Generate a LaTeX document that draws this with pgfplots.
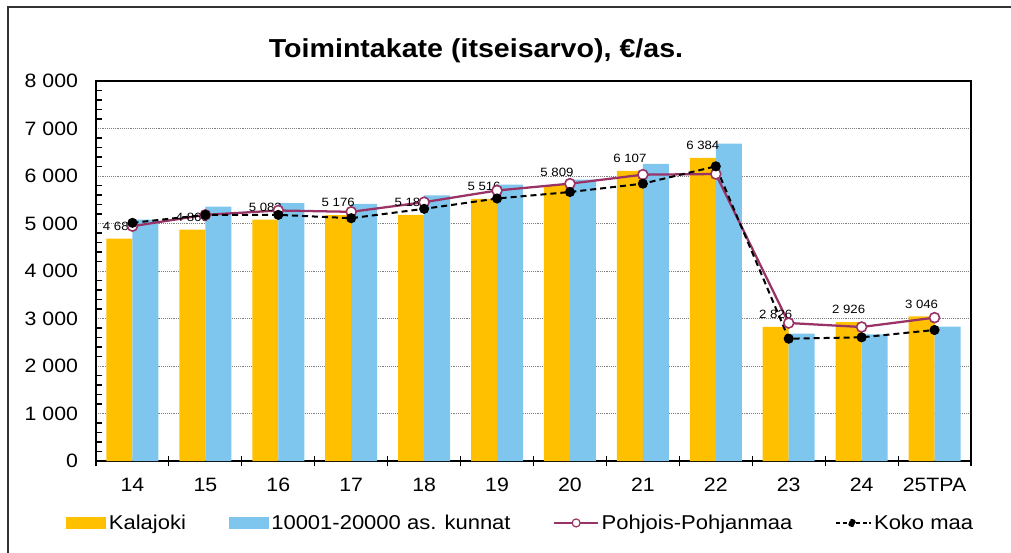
\documentclass[border=0pt]{standalone}
\usepackage{fontspec}
\setmainfont{Liberation Sans}[FakeStretch=1.1]
\usepackage{pgfplots}
\pgfplotsset{compat=1.18}
\definecolor{kal}{HTML}{FFC000}
\definecolor{kun}{HTML}{7FC6EE}
\definecolor{pp}{HTML}{993366}
\begin{document}
\begin{tikzpicture}
\useasboundingbox (0,0) rectangle (758.25pt,-414.75pt);
\draw[line width=1.2pt, black!80] (6pt,-420pt) -- (6pt,-5.25pt) -- (762pt,-5.25pt);
\node[font=\bfseries\fontsize{19.5}{22}\selectfont] at (357pt,-38pt) {Toimintakate (itseisarvo), €/as.};
\begin{axis}[
  at={(72pt,-345.75pt)}, anchor=south west,
  scale only axis, width=656.25pt, height=285pt,
  xmin=-0.5, xmax=11.5, ymin=0, ymax=8000,
  axis line style={black, line width=0.9pt},
  tick align=inside,
  major tick length=8pt, minor tick length=4.5pt,
  xtick={-0.5,0.5,...,11.5}, xticklabels={},
  major x tick style={black, line width=0.8pt, yshift=-4pt},
  extra x ticks={0,1,...,11},
  extra x tick labels={14,15,16,17,18,19,20,21,22,23,24,25TPA},
  extra x tick style={major tick length=0pt, xticklabel style={yshift=-9.5pt}},
  xtick pos=bottom, ytick pos=left,
  ytick={0,1000,...,8000}, minor y tick num=4,
  major y tick style={draw=none},
  minor y tick style={black, line width=0.8pt},
  yticklabel style={xshift=-10pt},
  tick label style={font=\fontsize{14.5}{16}\selectfont},
  /pgf/number format/assume math mode=true,
  /pgf/number format/1000 sep={\ },
  ymajorgrids, major grid style={densely dotted, gray, line width=0.6pt},
  legend columns=4,
  legend cell align=left,
  legend style={at={(-0.0343,-0.163)}, anchor=west, draw=none, inner sep=0pt,
    font=\fontsize{15}{17}\selectfont,
    /tikz/every odd column/.append style={column sep=0pt},
    /tikz/every even column/.append style={column sep=30pt}},
]
\addplot[ybar, bar width=19.5pt, bar shift=-9.75pt, fill=kal, draw=none,
  nodes near coords,
  nodes near coords style={font=\fontsize{9}{10}\selectfont, anchor=south, yshift=2.5pt, xshift=-9.75pt, black},
  legend image code/.code={\fill[kal] (0pt,-4.7pt) rectangle (30pt,4.7pt);}]
coordinates {(0,4680) (1,4869) (2,5083) (3,5176) (4,5181) (5,5516) (6,5809) (7,6107) (8,6384) (9,2826) (10,2926) (11,3046)};
\addlegendentry{Kalajoki}
\addplot[ybar, bar width=19.5pt, bar shift=9.75pt, fill=kun, draw=none,
  legend image code/.code={\fill[kun] (0pt,-4.7pt) rectangle (30pt,4.7pt);}]
coordinates {(0,5084) (1,5358) (2,5428) (3,5414) (4,5590) (5,5821) (6,5923) (7,6253) (8,6681) (9,2681) (10,2667) (11,2828)};
\addlegendentry{10001-20000 as. kunnat}
\addplot[pp, line width=1.7pt, mark=*, mark size=3.75pt, mark options={fill=white, draw=pp, line width=1.2pt},
  legend image code/.code={\draw[pp, line width=1.3pt] (0pt,0pt) -- (33pt,0pt); \draw[pp, fill=white, line width=0.9pt] (16.5pt,0pt) circle (3pt);}]
coordinates {(0,4944) (1,5182) (2,5274) (3,5246) (4,5449) (5,5695) (6,5839) (7,6028) (8,6042) (9,2905) (10,2821) (11,3018)};
\addlegendentry{Pohjois-Pohjanmaa}
\addplot[black, line width=1.5pt, dash pattern=on 4.5pt off 3pt, mark=*, mark size=3pt, mark options={solid},
  legend image code/.code={\draw[black, line width=1.2pt, dash pattern=on 3pt off 2pt] (0pt,0pt) -- (26pt,0pt); \fill[black] (12pt,0pt) circle (2.3pt);}]
coordinates {(0,5014) (1,5182) (2,5182) (3,5112) (4,5309) (5,5526) (6,5663) (7,5839) (8,6204) (9,2575) (10,2604) (11,2758)};
\addlegendentry{Koko maa}
\end{axis}
\end{tikzpicture}
\end{document}
